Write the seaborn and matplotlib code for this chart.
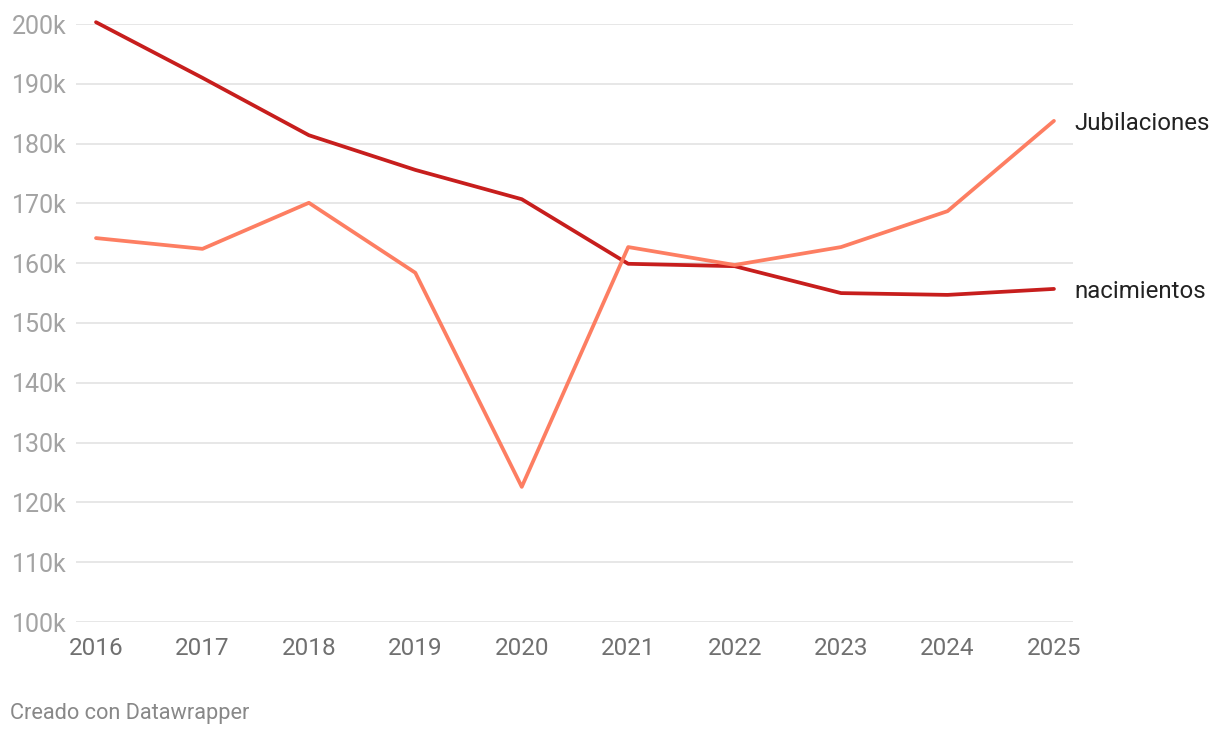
import matplotlib
matplotlib.use("Agg")
import matplotlib.pyplot as plt
import seaborn as sns
import pandas as pd

years = [2016, 2017, 2018, 2019, 2020, 2021, 2022, 2023, 2024, 2025]
nacimientos = [200300, 191000, 181400, 175600, 170700, 159900, 159500, 155000, 154700, 155700]
jubilaciones = [164200, 162400, 170100, 158400, 122600, 162700, 159700, 162700, 168700, 183800]
series_names = ["nacimientos", "Jubilaciones"]
y_ticks = [100000, 110000, 120000, 130000, 140000, 150000, 160000, 170000, 180000, 190000, 200000]
y_tick_labels = ["100k", "110k", "120k", "130k", "140k", "150k", "160k", "170k", "180k", "190k", "200k"]

df = pd.DataFrame({
    "year": years * 2,
    "value": nacimientos + jubilaciones,
    "serie": [series_names[0]] * len(years) + [series_names[1]] * len(years),
})

sns.set_theme(style="white")
plt.rcParams["font.family"] = ["Roboto", "DejaVu Sans"]

W, H = 1220, 740
fig = plt.figure(figsize=(W / 100, H / 100), dpi=100)
ax = fig.add_axes([76 / W, 1 - 622 / H, (1073 - 76) / W, (622 - 24) / H])

palette = {"nacimientos": "#c71e1d", "Jubilaciones": "#fd7e62"}
sns.lineplot(data=df, x="year", y="value", hue="serie", palette=palette,
             linewidth=2.7, ax=ax, legend=False, zorder=3)
for line in ax.lines:
    line.set_clip_on(False)
    line.set_solid_capstyle("round")
    line.set_solid_joinstyle("round")

ax.set_xlim(2015.812, 2025.179)
ax.set_ylim(100000, 200000)
ax.set_yticks(y_ticks)
ax.set_yticklabels(y_tick_labels)
ax.set_xticks(years)
ax.set_xticklabels([str(y) for y in years])
ax.grid(axis="y", color="#e3e3e3", linewidth=1.2)
ax.grid(axis="x", visible=False)
for s in ax.spines.values():
    s.set_visible(False)
ax.set_xlabel("")
ax.set_ylabel("")
ax.tick_params(axis="y", length=0, pad=6.5, labelsize=18, labelcolor="#a3a3a3")
ax.tick_params(axis="x", length=0, pad=11, labelsize=17.5, labelcolor="#707070")
for lbl in ax.get_yticklabels():
    lbl.set_verticalalignment("center_baseline")

ax.annotate("Jubilaciones", xy=(years[-1], jubilaciones[-1]), xytext=(14.4, 0),
            textcoords="offset points", fontsize=17.3, color="#222222", va="center_baseline", ha="left",
            annotation_clip=False)
ax.annotate("nacimientos", xy=(years[-1], nacimientos[-1]), xytext=(14.4, 0),
            textcoords="offset points", fontsize=17.3, color="#222222", va="center_baseline", ha="left",
            annotation_clip=False)

fig.text(10 / W, 1 - 714 / H, "Creado con Datawrapper", fontsize=15.7, color="#888888",
         ha="left", va="center")

fig.savefig("out.png", dpi=100, facecolor="white")
